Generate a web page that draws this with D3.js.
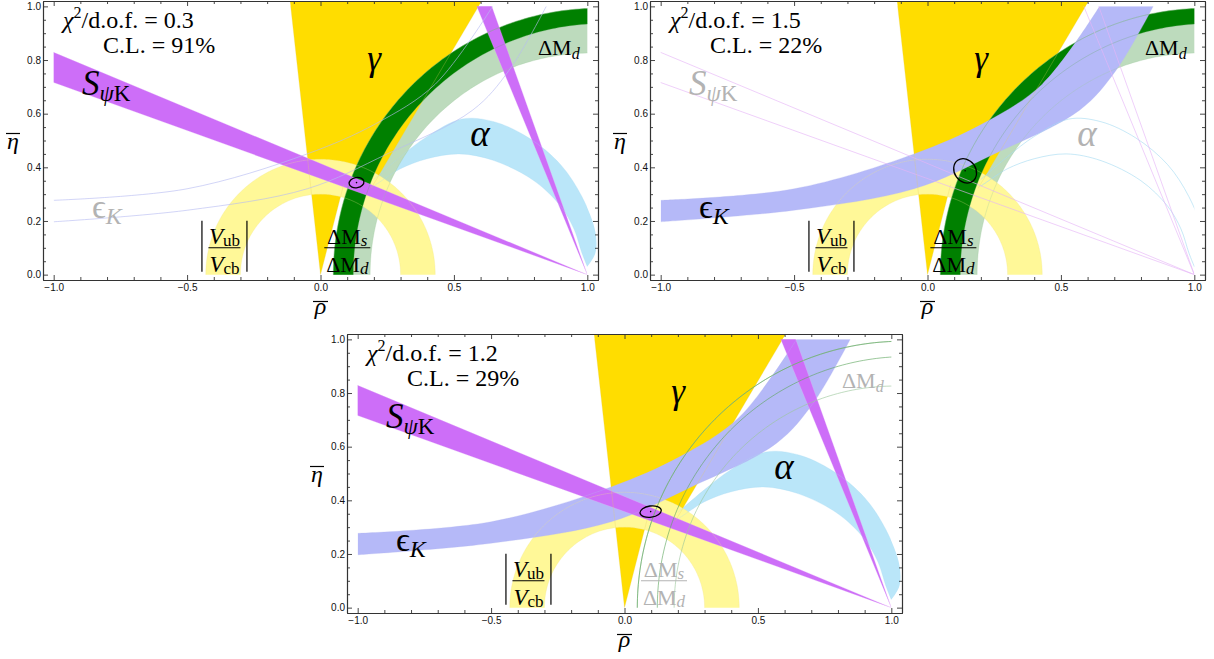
<!DOCTYPE html>
<html><head><meta charset="utf-8">
<script src="https://cdn.jsdelivr.net/npm/d3@7"></script>
<style>body{margin:0;background:#fff}svg{display:block}</style>
</head><body>
<svg id="c" width="1214" height="659"></svg>
<script>
// ---------------- data ----------------
const xTicks = [-1.0, -0.5, 0.0, 0.5, 1.0];
const xMinorTicks = d3.range(-10, 11).map(k => k / 10);
const yTicks = [0.0, 0.2, 0.4, 0.6, 0.8, 1.0];
const yMinorTicks = d3.range(0, 21).map(k => k / 20);
const chi2Values = ["0.3", "1.5", "1.2"];
const clValues = ["91%", "22%", "29%"];
// gamma region outline (rho, eta)
const gammaRegion = [[0,0],[0.0866,0.335],[0.19,0.322],[0.604,1.02],[-0.114,1.02]];
// S_psiK: beta range (deg) seen from (1,0)
const betaAngles = [19.7, 22.5];
// |Vub/Vcb| ring radii around (0,0)
const vubRadii = [0.30, 0.43];
// Delta M_s / Delta M_d ring (outer, inner circles: cx, cy, r)
const dmsCircles = [[1.041, 0, 0.993], [1.059, 0, 0.936]];
// Delta M_d ring
const dmdCircles = [[1.041, 0, 0.993], [1.012, 0, 0.826]];
// alpha band edges (rho, eta)
const alphaOuter = [[0.20,0.355],[0.30,0.44],[0.40,0.515],[0.53,0.58],[0.65,0.57],[0.78,0.51],[0.90,0.41],[0.98,0.29],[1.03,0.16],[1.03,0.08],[1.0,0.03]];
const alphaInner = [[0.20,0.33],[0.244,0.36],[0.30,0.395],[0.40,0.432],[0.52,0.45],[0.65,0.425],[0.80,0.35],[0.90,0.255],[0.95,0.17],[0.98,0.08],[1.0,0.03]];
// epsilon_K band edges
const epsLower = [[-1,0.197],[-0.5,0.24],[-0.05,0.32],[0.25,0.45],[0.57,0.613],[0.707,0.762],[0.846,1.0]];
const epsUpper = [[-1,0.277],[-0.5,0.32],[-0.05,0.45],[0.208,0.563],[0.43,0.71],[0.645,1.0]];
// fit results
const fitCenters = [[0.135,0.343],[0.141,0.387],[0.098,0.358]];
const fitAxes = [[0.028,0.019,-10],[0.040,0.048,-35],[0.040,0.021,-8]];
const activeSets = [
  ["alpha","dmd","gamma","vub","dms","spsik"],
  ["dmd","gamma","vub","dms","eps"],
  ["alpha","gamma","vub","eps","spsik"]
];

// ---------------- layout / style ----------------
const W = 555, H = 279;
const layout = [{L:43,T:1},{L:650,T:1},{L:347,T:334}];
const FONT = "'Liberation Serif','Times New Roman',Times,serif";
const fillColor = {alpha:"#BAE6F9", dmd:"#BDDBBD", gamma:"#FFDD00", vub:"#FFF898", dms:"#008000", eps:"#B5B9F8", spsik:"#CD6EF8"};
const lineColor = {alpha:"#a8dcf3", dmd:"#9cc89c", gamma:"#e6cf60", vub:"#efe590", dms:"#60a860", eps:"#b8bcf2", spsik:"#e6b4f7"};
const order = ["alpha","dmd","gamma","vub","dms","eps","spsik"];
const GRAY = "#b3b3b3";
const labelPos = {spsik:[-0.894,0.670], gamma:[0.201,0.763], dmd:[0.815,0.819], alpha:[0.598,0.479], eps:[-0.856,0.211], vub:[-0.36,0.1004], dms:[0.1004,0.1004]};
const dmsLabelRho = [0.1004, 0.097, 0.148];

const svg = d3.select("#c");
const defs = svg.append("defs");

function circ(c, n=360){ return d3.range(n+1).map(k=>[c[0]+c[2]*Math.cos(2*Math.PI*k/n), c[1]+c[2]*Math.sin(2*Math.PI*k/n)]); }
function dir(a){ return [Math.cos(a*Math.PI/180), Math.sin(a*Math.PI/180)]; }
function wedge(apex, a0, a1){ const d0=dir(a0), d1=dir(a1); return [apex,[apex[0]+4*d0[0],apex[1]+4*d0[1]],[apex[0]+4*d1[0],apex[1]+4*d1[1]]]; }
function ray(apex, a){ const d=dir(a); return [apex,[apex[0]+4*d[0],apex[1]+4*d[1]]]; }

function txt(g, x, y, parts, color, anchor){
  const t = g.append("text").attr("x",x).attr("y",y).attr("fill",color)
    .attr("text-anchor",anchor||"start").style("font-family",FONT);
  let cur = 0;
  parts.forEach(p=>{
    const s = t.append("tspan").text(p.t).style("font-size",p.s+"px");
    if(p.i) s.style("font-style","italic");
    const want = p.dy||0; if(want-cur) s.attr("dy", want-cur); cur = want;
  });
  return t;
}

layout.forEach((p,i)=>{
  const x = d3.scaleLinear().domain([-1.04,1.04]).range([p.L,p.L+W]);
  const y = d3.scaleLinear().domain([-0.02,1.02]).range([p.T+H,p.T]);
  const line = d3.line().x(d=>x(d[0])).y(d=>y(d[1]));
  const smooth = d3.line().x(d=>x(d[0])).y(d=>y(d[1])).curve(d3.curveCatmullRom);
  defs.append("clipPath").attr("id","fr"+i).append("rect").attr("x",p.L).attr("y",p.T).attr("width",W).attr("height",H);
  defs.append("clipPath").attr("id","rg"+i).append("rect").attr("x",x(-1)).attr("y",y(1)).attr("width",x(1)-x(-1)).attr("height",y(0)-y(1));
  const active = activeSets[i];
  const g = svg.append("g");
  const fills = g.append("g");
  const lines = g.append("g").attr("clip-path","url(#rg"+i+")");

  const shapes = {
    alpha: {fill: smooth(alphaOuter)+"L"+smooth(alphaInner.slice().reverse()).slice(1)+"Z", clip:"fr",
            edges:[smooth(alphaOuter), smooth(alphaInner)]},
    dmd: {fill: line(circ(dmdCircles[0]))+"Z"+line(circ(dmdCircles[1]))+"Z", clip:"rg", rule:"evenodd",
          edges: dmdCircles.map(c=>line(circ(c)))},
    gamma: {fill: line(gammaRegion)+"Z", clip:"fr",
            edges: [line(gammaRegion.slice(0,2)), line(gammaRegion.slice(2,4)), line([gammaRegion[0],gammaRegion[4]])]},
    vub: {fill: line(circ([0,0,vubRadii[1]]))+"Z"+line(circ([0,0,vubRadii[0]]))+"Z", clip:"rg", rule:"evenodd",
          edges: vubRadii.map(r=>line(circ([0,0,r])))},
    dms: {fill: line(circ(dmsCircles[0]))+"Z"+line(circ(dmsCircles[1]))+"Z", clip:"rg", rule:"evenodd",
          edges: dmsCircles.map(c=>line(circ(c)))},
    eps: {fill: smooth(epsLower)+"L"+smooth(epsUpper.slice().reverse()).slice(1)+"Z", clip:"rg",
          edges:[smooth(epsLower), smooth(epsUpper)]},
    spsik: {fill: line(wedge([1,0],180-betaAngles[1],180-betaAngles[0]))+"Z"+line(wedge([1,0],90+betaAngles[0],90+betaAngles[1]))+"Z", clip:"rg",
            edges: [180-betaAngles[1],180-betaAngles[0],90+betaAngles[0],90+betaAngles[1]].map(a=>line(ray([1,0],a)))}
  };

  order.forEach(k=>{
    const s = shapes[k];
    if(active.includes(k)){
      fills.append("path").attr("d",s.fill).attr("fill",fillColor[k])
        .attr("fill-rule",s.rule||"nonzero").attr("clip-path","url(#"+s.clip+i+")");
    }
  });
  order.forEach(k=>{
    const s = shapes[k];
    const on = active.includes(k);
    s.edges.forEach(d=>{
      lines.append("path").attr("d",d).attr("fill","none").attr("stroke",lineColor[k])
        .attr("stroke-width",0.7).attr("stroke-opacity", on?0.4:0.9);
    });
  });

  // fit ellipse
  const fc = fitCenters[i], fa = fitAxes[i];
  const cx = x(fc[0]), cy = y(fc[1]);
  g.append("ellipse").attr("cx",cx).attr("cy",cy)
    .attr("rx",x(fc[0]+fa[0])-cx).attr("ry",cy-y(fc[1]+fa[1]))
    .attr("transform",`rotate(${fa[2]},${cx},${cy})`)
    .attr("fill","none").attr("stroke","#000").attr("stroke-width",1.3);
  g.append("circle").attr("cx",cx).attr("cy",cy).attr("r",0.8).attr("fill","#000");

  // axes
  const axG = g.append("g").style("font-family",FONT).style("font-size","12px");
  const fmt = d3.format(".1f");
  const styleAx = sel => { sel.selectAll("path.domain").attr("stroke","#333").attr("stroke-width",1.1);
                           sel.selectAll(".tick line").attr("stroke","#333").attr("stroke-width",0.9);
                           sel.selectAll("text").attr("fill","#111"); };
  const minorX = xMinorTicks.filter(v=>!xTicks.some(t=>Math.abs(t-v)<1e-9));
  const minorY = yMinorTicks.filter(v=>!yTicks.some(t=>Math.abs(t-v)<1e-9));
  axG.append("g").attr("transform",`translate(0,${p.T+H})`).call(d3.axisBottom(x).tickValues(xTicks).tickSize(-5).tickSizeOuter(0).tickPadding(4).tickFormat(fmt)).call(styleAx);
  axG.append("g").attr("transform",`translate(0,${p.T+H})`).call(d3.axisBottom(x).tickValues(minorX).tickSize(-3).tickSizeOuter(0).tickFormat("")).call(styleAx);
  axG.append("g").attr("transform",`translate(0,${p.T})`).call(d3.axisTop(x).tickValues(xTicks).tickSize(-5).tickSizeOuter(0).tickFormat("")).call(styleAx);
  axG.append("g").attr("transform",`translate(0,${p.T})`).call(d3.axisTop(x).tickValues(minorX).tickSize(-3).tickSizeOuter(0).tickFormat("")).call(styleAx);
  axG.append("g").attr("transform",`translate(${p.L},0)`).call(d3.axisLeft(y).tickValues(yTicks).tickSize(-5).tickSizeOuter(0).tickPadding(2).tickFormat(fmt)).call(styleAx);
  axG.append("g").attr("transform",`translate(${p.L},0)`).call(d3.axisLeft(y).tickValues(minorY).tickSize(-3).tickSizeOuter(0).tickFormat("")).call(styleAx);
  axG.append("g").attr("transform",`translate(${p.L+W},0)`).call(d3.axisRight(y).tickValues(yTicks).tickSize(-5).tickSizeOuter(0).tickFormat("")).call(styleAx);
  axG.append("g").attr("transform",`translate(${p.L+W},0)`).call(d3.axisRight(y).tickValues(minorY).tickSize(-3).tickSizeOuter(0).tickFormat("")).call(styleAx);

  // axis titles
  const rx0 = x(0);
  txt(g, rx0, p.T+313, [{t:"ρ",s:24,i:1}], "#000", "middle");
  g.append("line").attr("x1",rx0-7.5).attr("x2",rx0+7.5).attr("y1",p.T+300.5).attr("y2",p.T+300.5).attr("stroke","#000").attr("stroke-width",1.2);
  const ex = p.L-30;
  txt(g, ex, p.T+148, [{t:"η",s:24,i:1}], "#000", "middle");
  g.append("line").attr("x1",ex-7).attr("x2",ex+7).attr("y1",p.T+132.5).attr("y2",p.T+132.5).attr("stroke","#000").attr("stroke-width",1.2);

  // chi2 text
  txt(g, p.L+20, p.T+27, [{t:"χ",s:24,i:1},{t:"2",s:16,dy:-10},{t:"/d.o.f. = "+chi2Values[i],s:24}], "#000");
  txt(g, p.L+60, p.T+52, [{t:"C.L. = "+clValues[i],s:24}], "#000");

  // constraint labels
  const col = k => active.includes(k) ? "#000" : GRAY;
  let lp;
  lp = labelPos.spsik; txt(g, x(lp[0]), y(lp[1]), [{t:"S",s:35,i:1},{t:"ψ",s:23,i:1,dy:6},{t:"K",s:23,dy:6}], col("spsik"));
  lp = labelPos.gamma; txt(g, x(lp[0]), y(lp[1]), [{t:"γ",s:35,i:1}], col("gamma"), "middle");
  lp = labelPos.alpha; txt(g, x(lp[0]), y(lp[1]), [{t:"α",s:37,i:1}], col("alpha"), "middle");
  lp = labelPos.dmd; txt(g, x(lp[0]), y(lp[1]), [{t:"ΔM",s:22},{t:"d",s:16,i:1,dy:4}], col("dmd"));
  lp = labelPos.eps; txt(g, x(lp[0]), y(lp[1]), [{t:"ϵ",s:34},{t:"K",s:24,i:1,dy:6}], col("eps"));
  // |Vub/Vcb|
  lp = labelPos.vub; { const c = x(lp[0]), b = y(lp[1]), cc = col("vub");
    txt(g, c, b-3.5, [{t:"V",s:23,i:1},{t:"ub",s:17,dy:2}], cc, "middle");
    txt(g, c, b+24, [{t:"V",s:23,i:1},{t:"cb",s:17,dy:2}], cc, "middle");
    g.append("line").attr("x1",c-16).attr("x2",c+16).attr("y1",b).attr("y2",b).attr("stroke",cc).attr("stroke-width",1.1);
    [-22.5,22.5].forEach(o=>g.append("line").attr("x1",c+o).attr("x2",c+o).attr("y1",b-27).attr("y2",b+24).attr("stroke",cc).attr("stroke-width",1.2));
  }
  // DeltaMs/DeltaMd
  { const c = x(dmsLabelRho[i]), b = y(labelPos.dms[1]), cc = col("dms");
    txt(g, c, b-3.5, [{t:"ΔM",s:22},{t:"s",s:17,i:1,dy:2}], cc, "middle");
    txt(g, c, b+24, [{t:"ΔM",s:22},{t:"d",s:17,i:1,dy:2}], cc, "middle");
    g.append("line").attr("x1",c-23).attr("x2",c+23).attr("y1",b).attr("y2",b).attr("stroke",cc).attr("stroke-width",1.1);
  }
});
</script>
</body></html>
